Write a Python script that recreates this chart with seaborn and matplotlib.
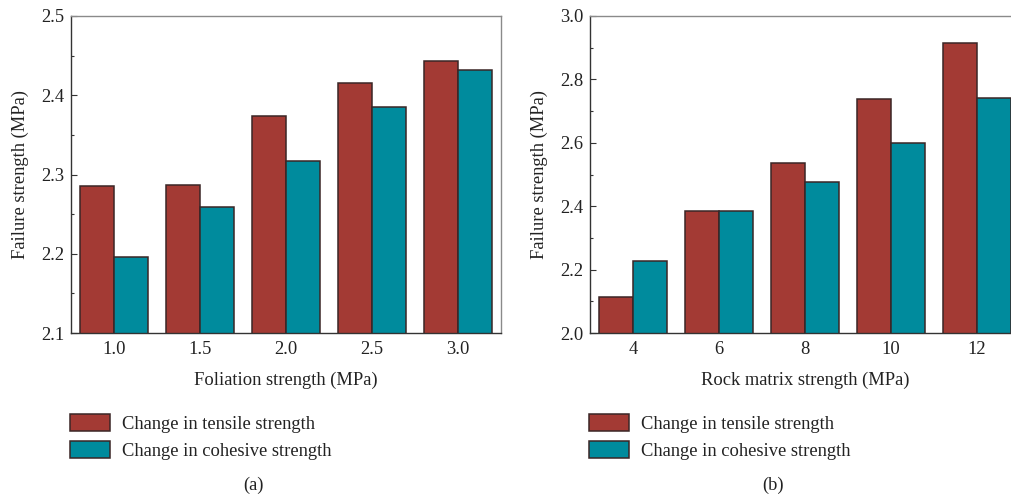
import matplotlib
matplotlib.use("Agg")
import matplotlib.pyplot as plt
from matplotlib.ticker import MultipleLocator
import seaborn as sns
import pandas as pd

# ---- data ----
foliation = ["1.0", "1.5", "2.0", "2.5", "3.0"]
fol_tensile = [2.285, 2.287, 2.374, 2.415, 2.443]
fol_cohesive = [2.196, 2.259, 2.317, 2.385, 2.432]

matrix = ["4", "6", "8", "10", "12"]
mat_tensile = [2.113, 2.385, 2.537, 2.738, 2.915]
mat_cohesive = [2.228, 2.385, 2.477, 2.598, 2.741]

series = ["Change in tensile strength", "Change in cohesive strength"]
colors = ["#A33A34", "#008B9D"]

sns.set_theme(style="ticks")
plt.rcParams['font.family'] = ['Liberation Serif', 'DejaVu Serif']
FS = 13.3

W, H = 1012, 500
fig = plt.figure(figsize=(W / 100, H / 100), dpi=100)
ax1 = fig.add_axes([71 / W, (H - 333) / H, 430 / W, 317 / H])
ax2 = fig.add_axes([590 / W, (H - 333) / H, 430 / W, 317 / H])


def panel(ax, cats, tens, coh, ylim, major, minor, xlabel):
    df = pd.DataFrame({
        "x": cats + cats,
        "value": tens + coh,
        "series": [series[0]] * len(cats) + [series[1]] * len(cats),
    })
    sns.barplot(data=df, x="x", y="value", hue="series", order=cats,
                hue_order=series, palette=colors, saturation=1,
                edgecolor="#3a2626", linewidth=1.1, width=0.8, ax=ax)
    handles, labels = ax.get_legend_handles_labels()
    ax.get_legend().remove()
    ax.set_xlim(-0.5, len(cats) - 0.5)
    ax.set_ylim(*ylim)
    ax.yaxis.set_major_locator(MultipleLocator(major))
    ax.yaxis.set_minor_locator(MultipleLocator(minor))
    ax.tick_params(axis='y', which='major', direction='in', length=4.5,
                   width=0.8, color="#333333", labelsize=FS, pad=5,
                   labelcolor="#222222")
    ax.tick_params(axis='y', which='minor', direction='in', length=2.3,
                   width=0.8, color="#333333")
    ax.tick_params(axis='x', which='both', length=0, labelsize=FS, pad=6,
                   labelcolor="#222222")
    for s in ["left", "bottom"]:
        ax.spines[s].set_color("#333333")
        ax.spines[s].set_linewidth(1.0)
    for s in ["top", "right"]:
        ax.spines[s].set_color("#8a8a8a")
        ax.spines[s].set_linewidth(1.0)
    ax.set_xlabel(xlabel, fontsize=FS, color="#222222")
    ax.set_ylabel("Failure strength (MPa)", fontsize=FS, color="#222222")
    ax.xaxis.set_label_coords(0.5, -(380 - 333) / 317)
    ax.xaxis.label.set_va("center")
    ax.yaxis.set_label_coords(-51 / 430, 0.5)
    ax.yaxis.label.set_va("center")
    ax.set_facecolor("white")
    return handles, labels


h1, l1 = panel(ax1, foliation, fol_tensile, fol_cohesive, (2.1, 2.5), 0.1, 0.05,
               "Foliation strength (MPa)")
h2, l2 = panel(ax2, matrix, mat_tensile, mat_cohesive, (2.0, 3.0), 0.2, 0.1,
               "Rock matrix strength (MPa)")

for handles, labels, x0, tag_x, tag in [(h1, l1, 70, 254, "(a)"),
                                         (h2, l2, 589, 773, "(b)")]:
    fig.legend(handles, labels, loc="upper left",
               bbox_to_anchor=(x0 / W, (H - 414) / H),
               frameon=False, fontsize=FS, borderpad=0, borderaxespad=0,
               handlelength=2.16, handleheight=1.05, handletextpad=0.65,
               labelspacing=0.45, labelcolor="#222222")
    fig.text(tag_x / W, (H - 485) / H, tag, ha="center", va="center",
             fontsize=FS, color="#222222")

fig.savefig("out.png", dpi=100, facecolor="white")
